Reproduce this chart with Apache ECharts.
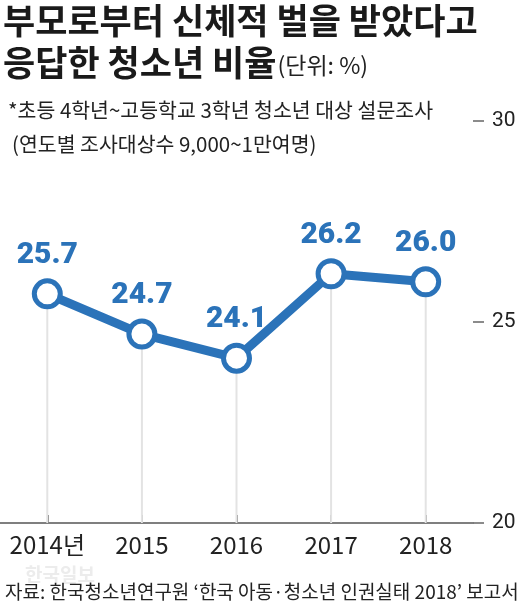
<!DOCTYPE html>
<html><head><meta charset="utf-8">
<script src="https://cdn.jsdelivr.net/npm/echarts@6/dist/echarts.min.js"></script>
<style>html,body{margin:0;padding:0;background:#fff}#c{width:530px;height:605px}</style>
</head><body><div id="c"></div>
<script>
const categories = ['2014년', '2015', '2016', '2017', '2018'];
const values = [25.7, 24.7, 24.1, 26.2, 26.0];
const yTicks = [20, 25, 30];

const KR = '"Noto Sans CJK KR", "Noto Sans", sans-serif';
const BLUE = '#2b73b9';
const chart = echarts.init(document.getElementById('c'), null, {renderer: 'canvas'});
chart.setOption({
  backgroundColor: '#fff',
  animation: false,
  title: [
    {text: '부모로부터 신체적 벌을 받았다고', left: -2, top: -2,
     textStyle: {fontFamily: KR, fontSize: 35, fontWeight: 'bold', color: '#1a1a1a'}},
    {text: '{b|응답한 청소년 비율}{u|(단위: %)}', left: -2, top: 40,
     textStyle: {rich: {
       b: {fontFamily: KR, fontSize: 35, fontWeight: 'bold', color: '#1a1a1a'},
       u: {fontFamily: KR, fontSize: 23, fontWeight: 'normal', color: '#222', padding: [6, 0, 0, 1]}}}},
    {text: '*초등 4학년~고등학교 3학년 청소년 대상 설문조사', left: 3, top: 95,
     textStyle: {fontFamily: KR, fontSize: 20.5, fontWeight: 'normal', color: '#222'}},
    {text: '(연도별 조사대상수 9,000~1만여명)', left: 7, top: 129,
     textStyle: {fontFamily: KR, fontSize: 20.5, fontWeight: 'normal', color: '#222'}},
    {text: '한국일보', left: 20, top: 560,
     textStyle: {fontFamily: KR, fontSize: 19, fontWeight: 'bold', color: '#ececec'}},
    {text: '자료: 한국청소년연구원 ‘한국 아동·청소년 인권실태 2018’ 보고서', left: 0, top: 577,
     textStyle: {fontFamily: KR, fontSize: 19, fontWeight: 'normal', color: '#222'}}
  ],
  grid: {left: 0, right: 57, top: 121, bottom: 82},
  xAxis: {
    type: 'category', data: categories, boundaryGap: true,
    axisLine: {show: true, lineStyle: {color: '#555', width: 1.5}},
    axisTick: {show: true, inside: true, alignWithLabel: true, length: 8, lineStyle: {color: '#555', width: 1.5}},
    axisLabel: {fontFamily: KR, fontSize: 24, color: '#222', margin: 10, interval: 0, hideOverlap: false},
    splitLine: {show: false}
  },
  yAxis: {
    type: 'value', position: 'right', min: 20, max: 30, interval: 5,
    axisLine: {show: false},
    axisTick: {show: true, length: 11, lineStyle: {color: '#666', width: 1.5}},
    axisLabel: {fontFamily: 'Roboto, sans-serif', fontSize: 21, color: '#222', margin: 19,
      formatter: v => yTicks.includes(v) ? String(v) : ''},
    splitLine: {show: false}
  },
  series: [
    {type: 'bar', data: values, barWidth: 2, itemStyle: {color: '#e3e3e3'}, silent: true, z: 1},
    {type: 'line', data: values, z: 3,
     lineStyle: {color: BLUE, width: 9},
     symbol: 'circle', symbolSize: 26,
     itemStyle: {color: '#fff', borderColor: BLUE, borderWidth: 5},
     label: {show: true, position: 'top', distance: 8, formatter: p => p.value.toFixed(1),
       fontFamily: 'Roboto, sans-serif', fontWeight: 900,
       fontSize: 30, color: BLUE}}
  ]
});
</script></body></html>
